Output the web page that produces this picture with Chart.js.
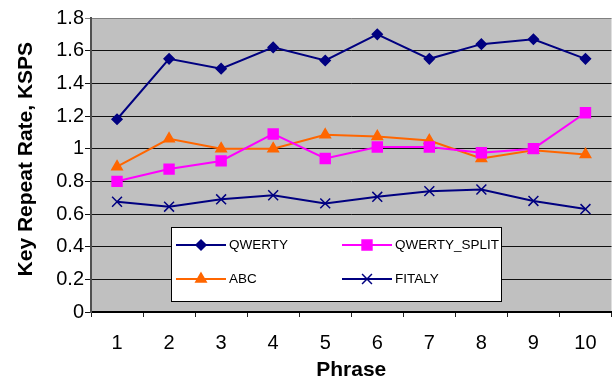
<!DOCTYPE html>
<html>
<head>
<meta charset="utf-8">
<script src="https://cdn.jsdelivr.net/npm/chart.js@4.4.1/dist/chart.umd.min.js"></script>
<style>
    html, body { margin: 0; padding: 0; background: #fff; overflow: hidden; }
    #wrap { width: 620px; height: 381px; }
</style>
</head>
<body>
<div id="wrap"><canvas id="chart" width="620" height="381"></canvas></div>
<script>
// --- Data ---
const phrases = ['1', '2', '3', '4', '5', '6', '7', '8', '9', '10'];
const qwerty = [1.18, 1.55, 1.49, 1.62, 1.54, 1.70, 1.55, 1.64, 1.67, 1.55];
const qwertySplit = [0.80, 0.875, 0.925, 1.09, 0.94, 1.01, 1.01, 0.975, 1.00, 1.22];
const abc = [0.89, 1.06, 1.00, 1.00, 1.085, 1.075, 1.05, 0.94, 0.99, 0.965];
const fitaly = [0.675, 0.645, 0.69, 0.715, 0.665, 0.705, 0.74, 0.75, 0.68, 0.63];
const yTickLabels = ['0', '0.2', '0.4', '0.6', '0.8', '1', '1.2', '1.4', '1.6', '1.8'];

const FONT = "'Liberation Sans', Arial, sans-serif";

// grey plot area like the old Excel charts
const plotBackground = {
    id: 'plotBackground',
    beforeDraw(chart) {
        const { ctx, chartArea: a } = chart;
        ctx.save();
        ctx.fillStyle = '#C0C0C0';
        ctx.fillRect(a.left, a.top, a.right - a.left, a.bottom - a.top);
        ctx.restore();
    }
};

// boxed two-column legend sitting inside the plot
const boxLegend = {
    id: 'boxLegend',
    afterDatasetsDraw(chart) {
        const ctx = chart.ctx;
        const box = { x: 171, y: 227, w: 330, h: 74 };
        const cols = [176, 342];
        const rows = [245, 279];
        ctx.save();
        ctx.fillStyle = '#fff';
        ctx.fillRect(box.x, box.y, box.w, box.h);
        ctx.strokeStyle = '#000';
        ctx.lineWidth = 1;
        ctx.strokeRect(box.x + 0.5, box.y + 0.5, box.w, box.h);

        chart.data.datasets.forEach((ds, i) => {
            const x = cols[i % 2];
            const y = rows[Math.floor(i / 2)];
            ctx.strokeStyle = ds.borderColor;
            ctx.lineWidth = 2;
            ctx.beginPath();
            ctx.moveTo(x, y);
            ctx.lineTo(x + 50, y);
            ctx.stroke();

            ctx.fillStyle = ds.pointBackgroundColor;
            ctx.strokeStyle = ds.pointBorderColor;
            ctx.lineWidth = ds.pointBorderWidth;
            Chart.helpers.drawPoint(ctx, {
                pointStyle: ds.pointStyle,
                radius: ds.pointRadius,
                rotation: 0,
                borderWidth: ds.pointBorderWidth
            }, x + 25, y);

            ctx.fillStyle = '#000';
            ctx.font = '13.5px ' + FONT;
            ctx.textBaseline = 'middle';
            ctx.textAlign = 'left';
            ctx.fillText(ds.label, x + 53, y);
        });
        ctx.restore();
    }
};

function series(label, data, color, pointStyle, radius) {
    return {
        label: label,
        data: data,
        borderColor: color,
        backgroundColor: color,
        borderWidth: 2,
        pointStyle: pointStyle,
        pointRadius: radius,
        pointHoverRadius: radius,
        pointBackgroundColor: color,
        pointBorderColor: color,
        pointBorderWidth: 1.5,
        tension: 0,
        fill: false
    };
}

new Chart(document.getElementById('chart'), {
    type: 'line',
    data: {
        labels: phrases,
        datasets: [
            series('QWERTY', qwerty, '#000080', 'rectRot', 5),
            series('QWERTY_SPLIT', qwertySplit, '#FF00FF', 'rect', 7),
            series('ABC', abc, '#FF6600', 'triangle', 6),
            series('FITALY', fitaly, '#000080', 'crossRot', 7)
        ]
    },
    options: {
        responsive: false,
        animation: false,
        devicePixelRatio: 1,
        layout: { padding: { top: 18, right: 4, left: 0, bottom: 0 } },
        plugins: {
            legend: { display: false },
            tooltip: { enabled: false }
        },
        scales: {
            x: {
                offset: true,
                grid: {
                    offset: true,
                    drawOnChartArea: false,
                    drawTicks: true,
                    tickLength: 5,
                    color: '#222'
                },
                border: { display: true, color: '#000', width: 2 },
                ticks: {
                    color: '#000',
                    padding: 14,
                    maxRotation: 0,
                    font: { family: FONT, size: 20 }
                },
                title: {
                    display: true,
                    text: 'Phrase',
                    color: '#000',
                    padding: { top: 0, bottom: 0 },
                    font: { family: FONT, size: 21, weight: 'bold', lineHeight: 1 }
                },
                afterFit(scale) { scale.height = 69; }
            },
            y: {
                min: 0,
                max: 1.8,
                ticks: {
                    stepSize: 0.2,
                    color: '#000',
                    padding: 1,
                    font: { family: FONT, size: 20 },
                    callback: (value, index) => yTickLabels[index]
                },
                grid: {
                    color: (c) => c.tick && c.tick.value >= 1.79 ? '#808080' : '#111',
                    lineWidth: 1,
                    tickLength: 6
                },
                border: { display: true, color: '#505050', width: 2 },
                title: {
                    display: true,
                    // two leading spaces nudge the title up a little, as in the original
                    text: '  Key Repeat Rate, KSPS',
                    color: '#000',
                    padding: { top: 16, bottom: 0 },
                    font: { family: FONT, size: 21, weight: 'bold', lineHeight: 1 }
                },
                afterFit(scale) { scale.width = 91; }
            }
        }
    },
    plugins: [plotBackground, boxLegend]
});
</script>
</body>
</html>
